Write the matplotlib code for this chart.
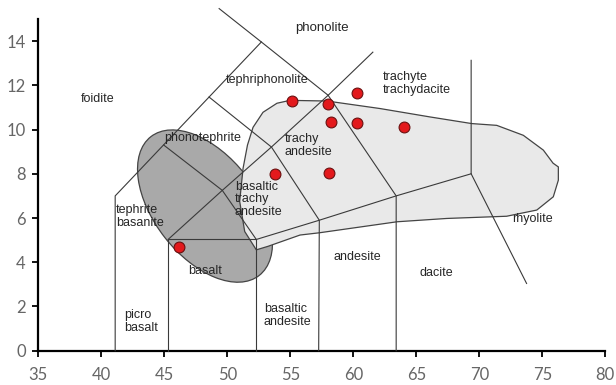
import matplotlib.pyplot as plt
from matplotlib.patches import Ellipse, Polygon
from matplotlib.transforms import Affine2D

# sample analyses (SiO2 wt%, Na2O+K2O wt%)
sio2 = [46.2, 53.8, 55.1, 58.0, 58.2, 58.1, 60.3, 60.3, 64.0]
alkali = [4.7, 8.0, 11.3, 11.15, 10.35, 8.05, 11.65, 10.3, 10.1]

# TAS field boundaries, as drawn in the figure
tas_lines = [
    ([41.1, 41.1, 52.7], [0, 7.0, 13.96]),
    ([49.35, 52.7, 58.0], [15.47, 13.96, 11.55]),
    ([45.3, 45.3, 52.3, 52.3], [0, 5.03, 5.03, 0]),
    ([44.95, 49.6, 52.3], [9.3, 7.25, 5.03]),
    ([45.3, 49.6, 53.5, 58.0, 61.55], [5.03, 7.25, 9.21, 11.55, 13.5]),
    ([48.55, 53.5, 57.3, 57.25], [11.47, 9.21, 5.9, 0]),
    ([52.3, 57.3, 63.4, 69.35, 69.35], [5.03, 5.9, 7.0, 8.0, 13.13]),
    ([58.0, 63.4, 63.4], [11.55, 7.0, 0]),
    ([69.35, 73.75], [8.0, 3.04]),
]

# field names and where they sit
names = ["phonolite", "tephriphonolite", "foidite", "phonotephrite",
         "trachy\nandesite", "basaltic\ntrachy\nandesite",
         "trachyte\ntrachydacite", "tephrite\nbasanite", "basalt",
         "picro\nbasalt", "basaltic\nandesite", "andesite", "dacite", "rhyolite"]
name_x = [57.49, 53.15, 39.7, 48.0, 54.55, 50.6, 62.35, 41.15, 48.2,
          41.85, 52.9, 60.3, 66.6, 74.25]
name_y = [14.58, 12.23, 11.4, 9.64, 9.29, 6.84, 12.1, 6.05, 3.61,
          1.34, 1.6, 4.25, 3.5, 5.95]
name_ha = ["center", "center", "center", "center", "left", "left", "left",
           "left", "center", "left", "left", "center", "center", "center"]

# light grey field outline
field_x = [52.30, 51.38, 50.98, 51.25, 51.60, 52.04, 52.83, 53.94, 54.97,
           57.91, 62.12, 66.09, 69.40, 71.38, 73.49, 75.08, 75.85, 76.27,
           76.27, 75.87, 74.56, 72.17, 67.42, 63.47, 57.28, 55.77, 53.23]
field_y = [4.56, 5.39, 6.75, 8.25, 9.30, 10.10, 10.78, 11.19, 11.32,
           11.29, 10.95, 10.57, 10.27, 10.19, 9.74, 9.07, 8.48, 8.31,
           7.71, 6.96, 6.36, 6.08, 5.98, 5.83, 5.33, 5.23, 4.72]

# dark grey ellipse: centre, width (SiO2 units), height, tilt
ell_x, ell_y = 48.23, 6.54
ell_w, ell_h, ell_angle = 13.97, 8.1, -52

W, H = 6.16, 3.85
fig = plt.figure(figsize=(W, H), dpi=100)
ax = fig.add_axes([0.0622, 0.0891, 0.9205, 0.8616])
ax.set_xlim(35, 80)
ax.set_ylim(0, 15)

# isotropic helper so the ellipse keeps its screen shape
k = (0.8616 * H / 15) / (0.9205 * W / 45)
ell = Ellipse((ell_x, ell_y * k), ell_w, ell_h, angle=ell_angle,
              transform=Affine2D().scale(1, 1 / k) + ax.transData,
              facecolor="#a9a9a9", edgecolor="#444444", lw=0.9, zorder=1)
ax.add_patch(ell)

field = Polygon(list(zip(field_x, field_y)), closed=True,
                facecolor="#e9e9e9", edgecolor="#444444", lw=0.9, zorder=2)
ax.add_patch(field)

for xs, ys in tas_lines:
    ax.plot(xs, ys, color="#3a3a3a", lw=0.8, zorder=3, clip_on=False)

ax.plot(sio2, alkali, "o", color="#e3191c", mec="#6a1010", mew=0.8,
        ms=7.8, zorder=5)

for t, x, y, ha in zip(names, name_x, name_y, name_ha):
    ax.text(x, y, t, ha=ha, va="center", fontsize=9.5 if t == "phonolite" else 9,
            color="#262626", family="Liberation Sans", linespacing=1.1, zorder=6)

ax.set_xticks(range(35, 81, 5))
ax.set_yticks(range(0, 15, 2))
for s in ["top", "right"]:
    ax.spines[s].set_visible(False)
for s in ["left", "bottom"]:
    ax.spines[s].set_linewidth(1.6)
    ax.spines[s].set_color("black")
ax.tick_params(direction="out", length=4, width=1.3, color="black",
               labelcolor="#666666", labelsize=12)
ax.tick_params(axis="x", pad=8)
ax.tick_params(axis="y", pad=5)
for lab in ax.get_xticklabels() + ax.get_yticklabels():
    lab.set_family("Lato")

fig.savefig("out.png", dpi=100)
